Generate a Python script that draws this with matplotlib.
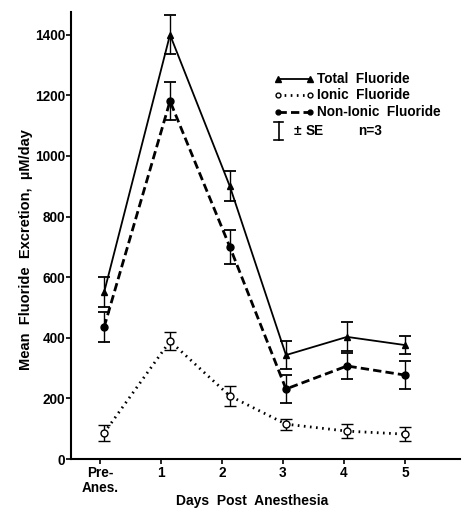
import matplotlib
matplotlib.use('Agg')
import matplotlib.pyplot as plt
from matplotlib.lines import Line2D

plt.rcParams['font.family'] = ['Liberation Sans', 'DejaVu Sans']

tick_pos = [0, 1, 2, 3, 4, 5]
tick_labels = ['Pre-\nAnes.', '1', '2', '3', '4', '5']
x_pts = [0.07, 1.15, 2.13, 3.05, 4.05, 5.0]

total = [550, 1400, 900, 343, 403, 376]
total_se = [50, 65, 50, 47, 48, 30]
nonionic = [435, 1181, 700, 231, 307, 277]
nonionic_se = [50, 62, 55, 45, 43, 46]
ionic = [86, 389, 208, 115, 92, 82]
ionic_se = [27, 30, 34, 18, 23, 23]

fs = 9.8
fig = plt.figure(figsize=(4.66, 5.12), dpi=100)
ax = fig.add_axes([0.152, 0.1035, 0.835, 0.873])

ekw = dict(ecolor='black', elinewidth=1.0, capsize=4, capthick=1.3)
ax.errorbar(x_pts, total, yerr=total_se, color='black', lw=1.3, ls='-',
            marker='^', ms=4, **ekw)
ax.errorbar(x_pts, nonionic, yerr=nonionic_se, color='black', lw=2.0,
            ls=(0, (3, 1.5)), marker='o', ms=5, **ekw)
ax.errorbar(x_pts, ionic, yerr=ionic_se, color='black', lw=2.0,
            ls=(0, (0.6, 1.6)), marker='o', ms=5, mfc='white', mew=1.0, **ekw)

ax.set_xlim(-0.475, 5.9)
ax.set_ylim(0, 1475)
ax.set_xticks(tick_pos)
ax.set_xticklabels(tick_labels, fontsize=fs, fontweight='bold', linespacing=1.05)
ax.set_yticks(range(0, 1401, 200))
ax.set_yticklabels([str(v) for v in range(0, 1401, 200)], fontsize=fs, fontweight='bold')
for s in ['top', 'right']:
    ax.spines[s].set_visible(False)
ax.spines['left'].set_linewidth(1.5)
ax.spines['bottom'].set_linewidth(1.5)
ax.tick_params(direction='out', length=3.5, width=1.2, pad=0.5)
ax.tick_params(axis='x', pad=1.5)

fig.text(0.056, 0.512, 'Mean  Fluoride  Excretion,  µM/day', fontsize=10.5, fontweight='bold',
         rotation=90, ha='center', va='center')
fig.text(0.54, 0.022, 'Days  Post  Anesthesia', fontsize=10, fontweight='bold',
         ha='center', va='center')

# legend drawn by hand
tr = ax.transAxes
lx0, lx1, tx = 0.532, 0.614, 0.632
rows = [
    (0.85, '-', 1.3, '^', 'black', 'Total  Fluoride'),
    (0.814, (0, (0.6, 1.6)), 2.0, 'o', 'white', 'Ionic  Fluoride'),
    (0.776, (0, (3, 1.5)), 2.0, 'o', 'black', 'Non-Ionic  Fluoride'),
]
for yy, ls, lw, mk, mfc, lab in rows:
    ax.add_line(Line2D([lx0, lx1], [yy, yy], transform=tr, color='black', ls=ls, lw=lw))
    ms = 4 if mk == '^' else 3.5
    ax.add_line(Line2D([lx0, lx1], [yy, yy], transform=tr, ls='none', marker=mk,
                       ms=ms, mfc=mfc, mec='black', mew=1.0))
    ax.text(tx, yy, lab, transform=tr, fontsize=fs, fontweight='bold', va='center')
yy = 0.734
xi = lx0 + 0.002
ax.add_line(Line2D([xi, xi], [yy - 0.02, yy + 0.02], transform=tr, color='black', lw=1.2))
ax.add_line(Line2D([xi - 0.011, xi + 0.011], [yy + 0.02, yy + 0.02], transform=tr, color='black', lw=1.2))
ax.add_line(Line2D([xi - 0.011, xi + 0.011], [yy - 0.02, yy - 0.02], transform=tr, color='black', lw=1.2))
ax.text(0.572, yy, '±', transform=tr, fontsize=fs, fontweight='bold', va='center')
ax.text(0.603, yy, 'SE', transform=tr, fontsize=fs, fontweight='bold', va='center')
ax.text(0.738, yy, 'n=3', transform=tr, fontsize=fs, fontweight='bold', va='center')

fig.savefig('out.png', dpi=100)
